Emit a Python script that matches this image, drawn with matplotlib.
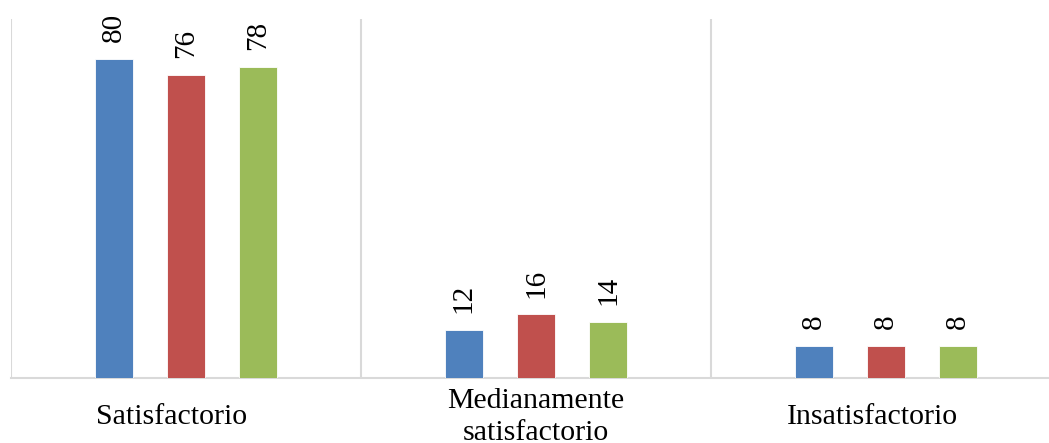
import numpy as np
import matplotlib
matplotlib.use("Agg")
from matplotlib import pyplot as plt

categories = ["Satisfactorio", "Medianamente\nsatisfactorio", "Insatisfactorio"]
serie_1 = [80, 12, 8]
serie_2 = [76, 16, 8]
serie_3 = [78, 14, 8]

colors = ["#4F81BD", "#C0504D", "#9BBB59"]
grid_color = "#D9D9D9"

plt.rcParams["font.family"] = ["Liberation Serif", "DejaVu Serif"]

fig = plt.figure(figsize=(10.49, 4.43), dpi=100)
ax = fig.add_axes([11 / 1049, 65 / 443, 1050 / 1049, 359 / 443])

x = np.arange(len(categories))
offset = 0.206
width = 0.108

for i, (vals, col) in enumerate(zip([serie_1, serie_2, serie_3], colors)):
    pos = x + (i - 1) * offset
    bars = ax.bar(pos, vals, width, color=col, edgecolor="white", linewidth=0.6, zorder=3)
    for b, v in zip(bars, vals):
        ax.annotate(str(v), (b.get_x() + b.get_width() / 2, v),
                    xytext=(0, 12), textcoords="offset points",
                    ha="center", va="bottom", rotation=90, fontsize=21)

ax.set_xlim(-0.5, 2.5)
ax.set_ylim(0, 90)

# separators between categories
for xv in np.arange(-0.5, 3, 1):
    ax.axvline(xv, color=grid_color, lw=1.5, zorder=1)

for s in ["top", "right", "left"]:
    ax.spines[s].set_visible(False)
ax.spines["bottom"].set_color(grid_color)
ax.spines["bottom"].set_linewidth(1.5)
ax.set_xticks([])
ax.set_yticks([])

# category labels, centred vertically under the axis
label_shift = [-14, 0, -14]
for xi, lab, dx in zip(x, categories, label_shift):
    ax.annotate(lab, (xi, 0), xycoords=("data", "axes fraction"),
                xytext=(dx * 0.72, -28), textcoords="offset points",
                ha="center", va="center", fontsize=21.5, linespacing=1.3,
                annotation_clip=False)

fig.savefig("out.png", dpi=100)
